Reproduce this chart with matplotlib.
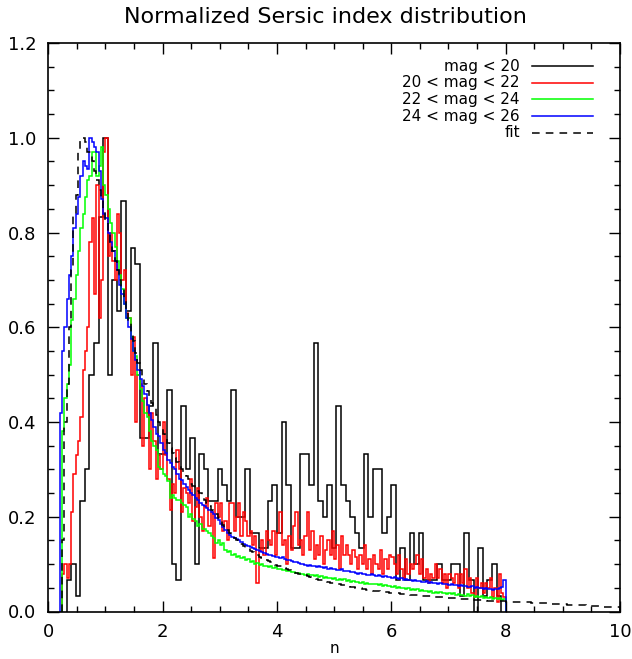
import numpy as np
import matplotlib
matplotlib.use("Agg")
import matplotlib.pyplot as plt
from matplotlib.ticker import MultipleLocator, FormatStrFormatter

# ---- data ----
# mag < 20: raw counts in 0.08 wide bins starting at n = 0.32 (peak = 30)
black_start, black_width = 0.32, 0.08
black_counts = [
    2, 3, 1, 7, 9, 15, 17, 25, 30, 15,
    21, 19, 26, 19, 23, 22, 11, 11, 13, 17,
    10, 10, 14, 3, 2, 13, 9, 11, 3, 10,
    9, 7, 7, 9, 8, 7, 14, 6, 6, 9,
    5, 5, 4, 4, 7, 8, 5, 12, 8, 4,
    4, 10, 10, 8, 17, 7, 6, 8, 4, 13,
    8, 7, 6, 5, 4, 10, 6, 9, 9, 5,
    6, 8, 2, 4, 2, 5, 3, 5, 2, 2,
    2, 3, 2, 2, 3, 3, 1, 5, 2, 0,
    4, 1, 2, 3, 1,
]

fine_width = 0.04

# 20 < mag < 22, normalized, 0.04 bins from n = 0.24
red_start = 0.24
red_vals = [
    0.08, 0.10, 0.07, 0.10, 0.21, 0.29, 0.33, 0.36, 0.41,
    0.51, 0.55, 0.60, 0.78, 0.83, 0.67, 0.90, 0.62, 0.70, 0.97,
    1.00, 0.75, 0.80, 0.74, 0.70, 0.84, 0.80, 0.70, 0.72, 0.63,
    0.62, 0.50, 0.58, 0.40, 0.50, 0.48, 0.35, 0.45, 0.42, 0.30,
    0.42, 0.36, 0.28, 0.33, 0.30, 0.40, 0.33, 0.28, 0.215, 0.27,
    0.25, 0.34, 0.30, 0.21, 0.26, 0.25, 0.23, 0.28, 0.19, 0.22,
    0.26, 0.20, 0.17, 0.22, 0.24, 0.18, 0.21, 0.113, 0.23, 0.20,
    0.23, 0.17, 0.19, 0.15, 0.23, 0.23, 0.17, 0.20, 0.23, 0.16,
    0.21, 0.19, 0.16, 0.17, 0.14, 0.16, 0.06, 0.13, 0.15, 0.12,
    0.17, 0.15, 0.14, 0.17, 0.12, 0.165, 0.21, 0.14, 0.15, 0.10,
    0.16, 0.13, 0.18, 0.21, 0.14, 0.15, 0.12, 0.16, 0.21, 0.13,
    0.17, 0.11, 0.14, 0.12, 0.16, 0.10, 0.13, 0.15, 0.12, 0.17,
    0.11, 0.14, 0.09, 0.16, 0.12, 0.14, 0.12, 0.10, 0.13, 0.116,
    0.09, 0.12, 0.10, 0.14, 0.09, 0.11, 0.08, 0.12, 0.10, 0.09,
    0.13, 0.08, 0.11, 0.09, 0.12, 0.116, 0.10, 0.08, 0.12, 0.09,
    0.07, 0.11, 0.08, 0.10, 0.09, 0.10, 0.12, 0.08, 0.11, 0.07,
    0.09, 0.06, 0.08, 0.07, 0.10, 0.07, 0.09, 0.06, 0.08, 0.05,
    0.08, 0.07, 0.06, 0.08, 0.05, 0.08, 0.06, 0.09, 0.05, 0.07,
    0.04, 0.03, 0.07, 0.05, 0.06, 0.04, 0.06, 0.05, 0.07, 0.03,
    0.05, 0.02, 0.08, 0.04, 0.03,
]

# 22 < mag < 24
green_start = 0.24
green_vals = [
    0.38, 0.45, 0.48, 0.52, 0.615, 0.66, 0.71, 0.76, 0.81,
    0.84, 0.875, 0.91, 0.92, 0.97, 0.97, 0.92, 0.94, 0.98, 0.90,
    0.88, 0.85, 0.82, 0.80, 0.77, 0.74, 0.71, 0.68, 0.65, 0.62,
    0.62, 0.58, 0.55, 0.54, 0.50, 0.47, 0.445, 0.42, 0.41, 0.38,
    0.36, 0.35, 0.34, 0.305, 0.30, 0.29, 0.285, 0.275, 0.24, 0.245,
    0.24, 0.235, 0.235, 0.23, 0.225, 0.22, 0.20, 0.205, 0.195, 0.19,
    0.18, 0.185, 0.175, 0.175, 0.17, 0.165, 0.16, 0.155, 0.145, 0.15,
    0.14, 0.145, 0.13, 0.125, 0.128, 0.12, 0.122, 0.116, 0.118, 0.112,
    0.114, 0.108, 0.110, 0.104, 0.106, 0.100, 0.103, 0.098, 0.100, 0.096,
    0.097, 0.094, 0.095, 0.091, 0.093, 0.089, 0.090, 0.087, 0.088, 0.085,
    0.086, 0.083, 0.084, 0.081, 0.082, 0.079, 0.080, 0.078, 0.079, 0.076,
    0.077, 0.074, 0.076, 0.073, 0.074, 0.071, 0.073, 0.070, 0.071, 0.069,
    0.070, 0.067, 0.069, 0.066, 0.068, 0.065, 0.066, 0.063, 0.065, 0.062,
    0.063, 0.061, 0.062, 0.059, 0.061, 0.058, 0.059, 0.057, 0.058, 0.056,
    0.057, 0.054, 0.056, 0.053, 0.054, 0.052, 0.053, 0.050, 0.052, 0.049,
    0.050, 0.048, 0.049, 0.046, 0.048, 0.045, 0.047, 0.044, 0.045, 0.043,
    0.044, 0.042, 0.043, 0.040, 0.042, 0.039, 0.041, 0.038, 0.040, 0.037,
    0.039, 0.036, 0.038, 0.035, 0.037, 0.034, 0.035, 0.033, 0.036, 0.032,
    0.034, 0.031, 0.033, 0.030, 0.032, 0.029, 0.031, 0.028, 0.030, 0.027,
    0.029, 0.026, 0.028, 0.025, 0.027,
]

# 24 < mag < 26
blue_start = 0.20
blue_vals = [
    0.42, 0.55, 0.60, 0.66, 0.71, 0.75, 0.81, 0.84, 0.875, 0.92,
    0.95, 0.94, 0.935, 1.00, 0.99, 0.98, 0.97, 0.93, 0.87, 0.84,
    0.83, 0.80, 0.78, 0.76, 0.74, 0.72, 0.69, 0.67, 0.65, 0.62,
    0.60, 0.575, 0.55, 0.53, 0.51, 0.49, 0.475, 0.46, 0.435, 0.42,
    0.405, 0.39, 0.375, 0.37, 0.355, 0.34, 0.335, 0.32, 0.313, 0.305,
    0.30, 0.29, 0.28, 0.277, 0.27, 0.262, 0.256, 0.25, 0.245, 0.24,
    0.236, 0.23, 0.225, 0.222, 0.218, 0.215, 0.21, 0.205, 0.198, 0.193,
    0.185, 0.178, 0.172, 0.165, 0.162, 0.158, 0.155, 0.152, 0.150, 0.146,
    0.143, 0.140, 0.138, 0.136, 0.134, 0.131, 0.129, 0.128, 0.126, 0.124,
    0.122, 0.120, 0.119, 0.117, 0.116, 0.115, 0.112, 0.114, 0.110, 0.108,
    0.109, 0.106, 0.104, 0.105, 0.102, 0.100, 0.101, 0.098, 0.097, 0.099,
    0.095, 0.096, 0.094, 0.095, 0.093, 0.092, 0.094, 0.090, 0.091, 0.089,
    0.090, 0.088, 0.087, 0.089, 0.086, 0.085, 0.086, 0.083, 0.084, 0.082,
    0.080, 0.082, 0.079, 0.080, 0.078, 0.077, 0.079, 0.076, 0.075, 0.077,
    0.074, 0.073, 0.075, 0.072, 0.073, 0.071, 0.072, 0.070, 0.068, 0.070,
    0.067, 0.069, 0.066, 0.067, 0.065, 0.066, 0.064, 0.065, 0.063, 0.062,
    0.064, 0.061, 0.062, 0.060, 0.061, 0.059, 0.060, 0.058, 0.057, 0.059,
    0.056, 0.057, 0.055, 0.056, 0.054, 0.055, 0.053, 0.054, 0.052, 0.051,
    0.053, 0.050, 0.051, 0.049, 0.050, 0.048, 0.049, 0.047, 0.048, 0.046,
    0.047, 0.048, 0.050, 0.052, 0.066,
]

# fit
fit_start = 0.24
fit_vals = [
    0.15, 0.40, 0.48, 0.60, 0.72, 0.84, 0.88, 0.97, 1.00,
    1.00, 0.99, 0.97, 0.97, 0.95, 0.93, 0.91, 0.89, 0.87, 0.85,
    0.82, 0.80, 0.78, 0.76, 0.74, 0.72, 0.70, 0.68, 0.66, 0.63,
    0.61, 0.59, 0.57, 0.545, 0.525, 0.51, 0.495, 0.48, 0.465, 0.45,
    0.44, 0.43, 0.415, 0.40, 0.39, 0.375, 0.365, 0.355, 0.345, 0.335,
    0.325, 0.315, 0.31, 0.30, 0.29, 0.285, 0.28, 0.27, 0.265, 0.26,
    0.255, 0.25, 0.24, 0.235, 0.23, 0.222, 0.215, 0.21, 0.205, 0.198,
    0.19, 0.183, 0.177, 0.171, 0.165, 0.16, 0.155, 0.15, 0.146, 0.142,
    0.138, 0.134, 0.131, 0.128, 0.125, 0.122, 0.119, 0.116, 0.113, 0.111,
    0.108, 0.106, 0.104, 0.101, 0.099, 0.097, 0.095, 0.093, 0.091, 0.089,
    0.087, 0.085, 0.084, 0.082, 0.080, 0.079, 0.077, 0.076, 0.074, 0.073,
    0.071, 0.070, 0.069, 0.067, 0.066, 0.065, 0.064, 0.062, 0.061, 0.060,
    0.059, 0.058, 0.057, 0.056, 0.055, 0.054, 0.053, 0.052, 0.051, 0.050,
    0.049, 0.049, 0.048, 0.047, 0.046, 0.046, 0.045, 0.044, 0.044, 0.043,
    0.042, 0.042, 0.041, 0.041, 0.040, 0.039, 0.039, 0.038, 0.038, 0.037,
    0.037, 0.036, 0.036, 0.035, 0.035, 0.034, 0.034, 0.034, 0.033, 0.033,
    0.032, 0.032, 0.032, 0.031, 0.031, 0.030, 0.030, 0.030, 0.029, 0.029,
    0.029, 0.028, 0.028, 0.028, 0.027, 0.027, 0.027, 0.026, 0.026, 0.026,
    0.025, 0.025, 0.025, 0.025, 0.024, 0.024, 0.024, 0.023, 0.023, 0.023,
    0.023, 0.022, 0.022, 0.022, 0.022, 0.021, 0.021, 0.021, 0.020, 0.020,
    0.020, 0.020, 0.019, 0.019, 0.019, 0.019, 0.018, 0.018, 0.018, 0.018,
    0.017, 0.017, 0.017, 0.017, 0.016, 0.016, 0.016, 0.016, 0.015, 0.015,
    0.015, 0.015, 0.014, 0.014, 0.014, 0.014, 0.013, 0.013, 0.013, 0.013,
    0.012, 0.012, 0.012, 0.012, 0.011, 0.011, 0.011, 0.011, 0.010, 0.010,
    0.010, 0.010, 0.009, 0.009, 0.009,
]

legend_labels = ["mag < 20", "20 < mag < 22", "22 < mag < 24", "24 < mag < 26", "fit"]


def bin_edges(start, width, n):
    return start + width * np.arange(n + 1)


def main():
    plt.rcParams["font.family"] = "DejaVu Sans"

    W, H = 632, 659
    fig = plt.figure(figsize=(W / 100, H / 100), dpi=100, facecolor="white")
    x0, x1, ytop, ybot = 48.3, 620.0, 43.0, 611.5
    ax = fig.add_axes([x0 / W, 1 - ybot / H, (x1 - x0) / W, (ybot - ytop) / H])

    lw = 1.1
    dash = (0, (5, 4))

    black_vals = np.array(black_counts) / max(black_counts)
    series = [
        (black_vals, black_start, black_width, "black", "-"),
        (np.array(red_vals), red_start, fine_width, "#ff0000", "-"),
        (np.array(green_vals), green_start, fine_width, "#00ff00", "-"),
        (np.array(blue_vals), blue_start, fine_width, "#0000ff", "-"),
        (np.array(fit_vals), fit_start, fine_width, "black", dash),
    ]
    for vals, start, width, color, ls in series:
        edges = bin_edges(start, width, len(vals))
        ax.stairs(vals, edges, baseline=0, color=color, linewidth=lw,
                  linestyle=ls)

    ax.set_xlim(0, 10)
    ax.set_ylim(0, 1.2)

    ax.xaxis.set_major_locator(MultipleLocator(2))
    ax.xaxis.set_minor_locator(MultipleLocator(0.5))
    ax.yaxis.set_major_locator(MultipleLocator(0.2))
    ax.yaxis.set_minor_locator(MultipleLocator(0.05))
    ax.yaxis.set_major_formatter(FormatStrFormatter("%.1f"))

    ax.tick_params(which="both", direction="in", top=True, right=True,
                   labelsize=13, width=1.0, colors="black")
    ax.tick_params(which="major", length=8)
    ax.tick_params(which="minor", length=4.5)
    ax.tick_params(axis="y", pad=8.5)
    ax.tick_params(axis="x", pad=8.0)
    for sp in ax.spines.values():
        sp.set_linewidth(1.2)

    ax.set_xlabel("n", fontsize=11, labelpad=0)

    fig.text(325 / W, 1 - 17 / H, "Normalized Sersic index distribution",
             ha="center", va="center", fontsize=16)

    # legend: text right-aligned, sample line on the right
    colors = ["black", "#ff0000", "#00ff00", "#0000ff", "black"]
    styles = ["-", "-", "-", "-", dash]
    rows_px = [66.0, 82.7, 99.3, 116.0, 132.5]
    tx = (520 - x0) / (x1 - x0)
    lx0 = (531.7 - x0) / (x1 - x0)
    lx1 = (593.3 - x0) / (x1 - x0)
    for label, color, ls, ypx in zip(legend_labels, colors, styles, rows_px):
        yl = (ybot - ypx) / (ybot - ytop)
        yb = (ybot - ypx - 4.8) / (ybot - ytop)
        ax.text(tx, yb, label, transform=ax.transAxes, ha="right",
                va="baseline", fontsize=11)
        ax.plot([lx0, lx1], [yl, yl], transform=ax.transAxes, color=color,
                linewidth=lw, linestyle=ls)

    fig.savefig("out.png", dpi=100, facecolor="white")
    plt.close(fig)


if __name__ == "__main__":
    main()
